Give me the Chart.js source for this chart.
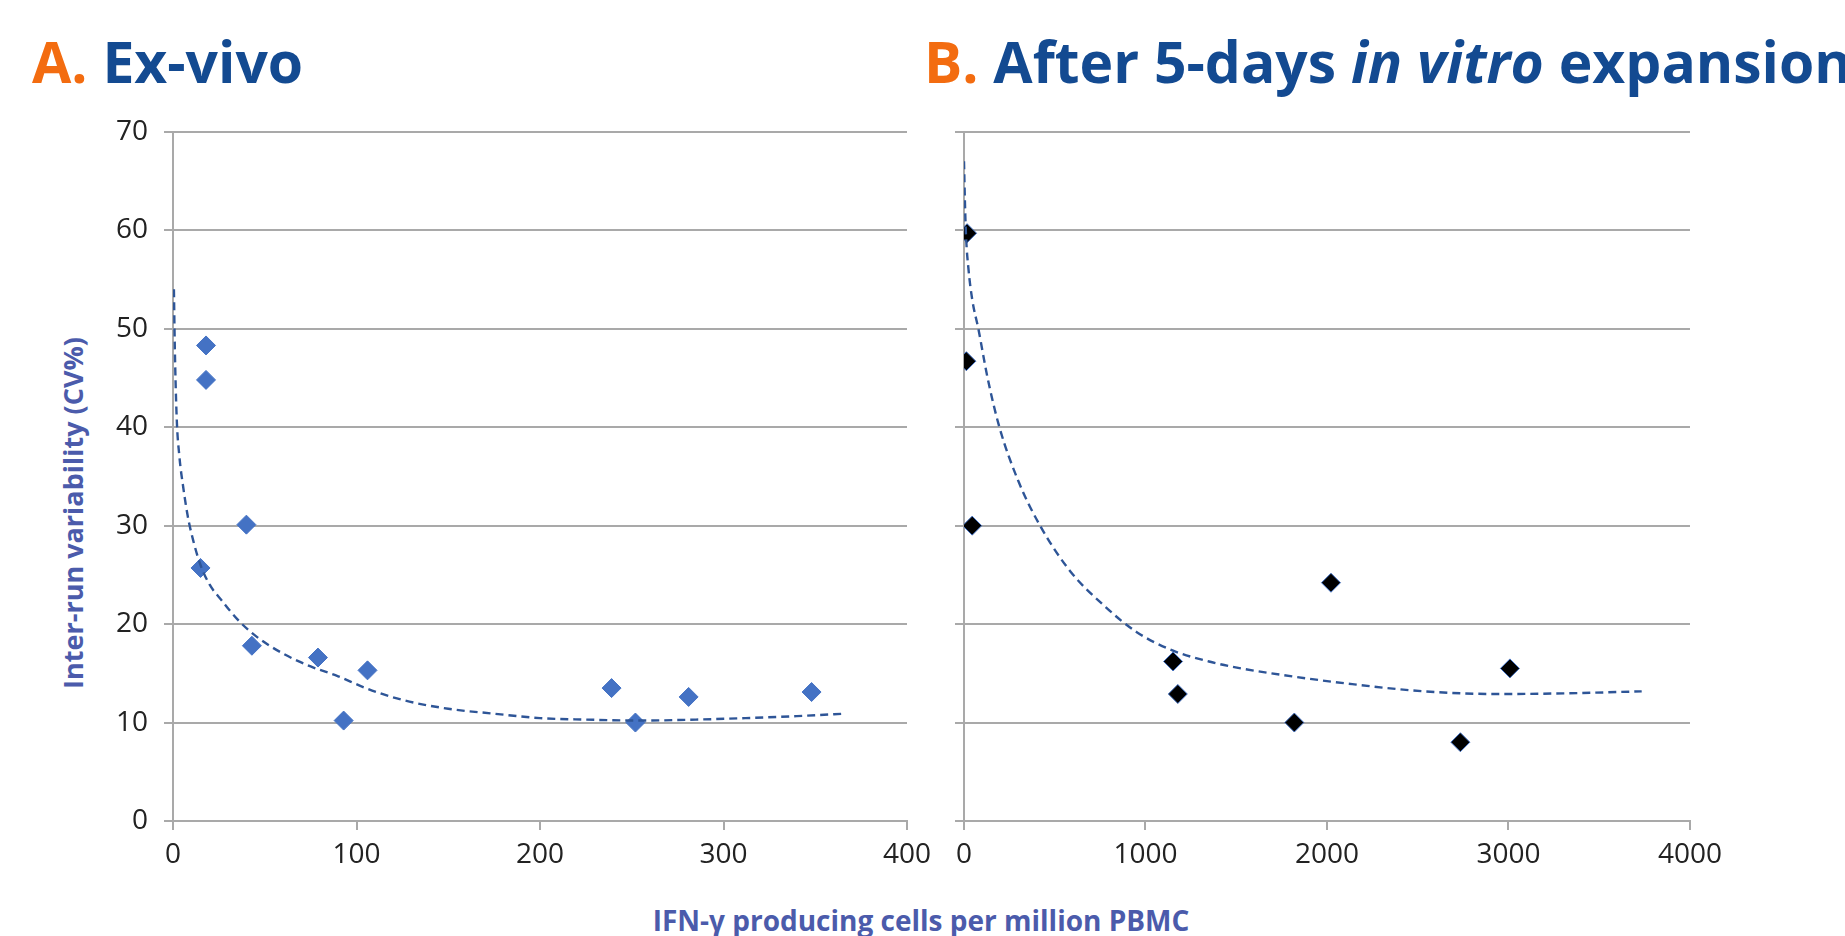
<!DOCTYPE html>
<html lang="en">
<head>
  <meta charset="UTF-8">
  <title>Inter-run variability vs IFN-γ producing cells</title>
  <script src="https://cdn.jsdelivr.net/npm/chart.js"></script>
  <style>
    body {
      margin: 0;
      width: 1845px;
      height: 936px;
      overflow: hidden;
      background: #fff;
      position: relative;
      font-family: 'Open Sans', sans-serif;
    }
    .title {
      position: absolute;
      top: 33px;
      font-size: 57px;
      font-weight: 700;
      color: #134a91;
      white-space: nowrap;
      line-height: 1;
    }
    .title .tag { color: #f36c10; }
    #titleA { left: 32px; }
    #titleB { left: 924px; }
    .ytitle {
      position: absolute;
      left: 72px;
      top: 513px;
      transform: translate(-50%, -50%) rotate(-90deg);
      font-size: 27px;
      font-weight: 700;
      color: #4b5bab;
      white-space: nowrap;
    }
    .xtitle {
      position: absolute;
      left: 921px;
      top: 904px;
      transform: translateX(-50%);
      font-size: 28px;
      font-weight: 700;
      color: #4b5bab;
      white-space: nowrap;
      line-height: 1.2;
    }
    .box { position: absolute; }
    #boxA { left: 100px; top: 99px; width: 840px; height: 772px; }
    #boxB { left: 940px; top: 99px; width: 790px; height: 772px; }
  </style>
</head>
<body>
  <div class="title" id="titleA"><span class="tag">A.</span> Ex-vivo</div>
  <div class="title" id="titleB"><span class="tag">B.</span> After 5-days <i>in vitro</i> expansion</div>

  <div class="box" id="boxA"><canvas id="chartA"></canvas></div>
  <div class="box" id="boxB"><canvas id="chartB"></canvas></div>

  <div class="ytitle">Inter-run variability (CV%)</div>
  <div class="xtitle">IFN-γ producing cells per million PBMC</div>

  <script>
    // A. ex-vivo measurements
    const exVivoCells = [18, 18, 40, 15, 43, 79, 106, 93, 239, 252, 281, 348];
    const exVivoCV    = [48.3, 44.8, 30.1, 25.7, 17.8, 16.6, 15.3, 10.2, 13.5, 10.0, 12.6, 13.1];
    // trendline as drawn in the figure
    const exVivoTrendX = [0.5, 1, 2, 3.5, 5.5, 8, 11, 15, 20, 27, 35, 45, 60, 75, 90, 105, 125, 150, 175, 200, 225, 255, 285, 312, 340, 366];
    const exVivoTrendY = [54, 48, 41, 37, 34, 31, 28.5, 26, 24, 22.3, 20.5, 18.8, 17, 15.7, 14.7, 13.5, 12.3, 11.4, 10.9, 10.45, 10.3, 10.2, 10.3, 10.45, 10.65, 10.9];

    // B. after 5 days in vitro expansion
    const expCells = [17, 13, 45, 2022, 1152, 1178, 1820, 3008, 2735];
    const expCV    = [59.7, 46.7, 30.0, 24.2, 16.2, 12.9, 10.0, 15.5, 8.0];
    const expTrendX = [0, 5, 11, 25, 45, 79, 130, 195, 300, 419, 584, 782, 950, 1152, 1350, 1496, 1743, 2139, 2535, 2931, 3328, 3734];
    const expTrendY = [67, 63, 59.5, 56, 53, 50, 45, 40, 34.5, 30, 25.4, 21.7, 19.2, 17.3, 16.2, 15.6, 14.86, 13.9, 13.17, 12.9, 12.97, 13.17];

    const yTicks = [0, 10, 20, 30, 40, 50, 60, 70];

    const gridColor = '#a9a9a9';
    const tickFont = { family: 'Open Sans', size: 28 };

    function pairs(xs, ys) {
      return xs.map((x, i) => ({ x: x, y: ys[i] }));
    }

    function makeChart(id, cells, cv, tx, ty, xMax, xStep, markerFill, markerBorder, showYLabels, yWidth, padRight) {
      const ctx = document.getElementById(id).getContext('2d');
      return new Chart(ctx, {
        type: 'scatter',
        data: {
          datasets: [
            {
              label: 'Trend',
              data: pairs(tx, ty),
              showLine: true,
              borderColor: '#2e5597',
              borderWidth: 2.4,
              borderDash: [8, 5],
              pointRadius: 0,
              cubicInterpolationMode: 'monotone',
              order: 0
            },
            {
              label: 'CV%',
              data: pairs(cells, cv),
              pointStyle: 'rectRot',
              pointRadius: 9.5,
              backgroundColor: markerFill,
              borderColor: markerBorder,
              borderWidth: 1,
              order: 1
            }
          ]
        },
        options: {
          responsive: true,
          maintainAspectRatio: false,
          animation: false,
          layout: { padding: { top: 21, right: padRight, bottom: 0, left: 0 } },
          plugins: { legend: { display: false }, tooltip: { enabled: false } },
          scales: {
            x: {
              type: 'linear',
              min: 0,
              max: xMax,
              ticks: {
                stepSize: xStep,
                color: '#222',
                font: tickFont,
                padding: 8,
                maxRotation: 0,
                callback: function (v) { return String(v); }
              },
              grid: { drawOnChartArea: false, color: gridColor, lineWidth: 2, tickLength: 9 },
              border: { color: gridColor, width: 2 },
              afterFit: function (scale) { scale.height = 50; }
            },
            y: {
              min: 0,
              max: 70,
              afterBuildTicks: function (scale) { scale.ticks = yTicks.map(v => ({ value: v })); },
              ticks: {
                color: '#222',
                font: tickFont,
                padding: 16,
                callback: function (v) { return showYLabels ? String(v) : ''; }
              },
              grid: { color: gridColor, lineWidth: 2, tickLength: 9 },
              border: { color: gridColor, width: 2 },
              afterFit: function (scale) { scale.width = yWidth; }
            }
          }
        }
      });
    }

    makeChart('chartA', exVivoCells, exVivoCV, exVivoTrendX, exVivoTrendY, 400, 100, '#4472c4', '#4472c4', true, 73, 33);
    makeChart('chartB', expCells, expCV, expTrendX, expTrendY, 4000, 1000, '#000000', '#4472c4', false, 24, 40);
  </script>
</body>
</html>
